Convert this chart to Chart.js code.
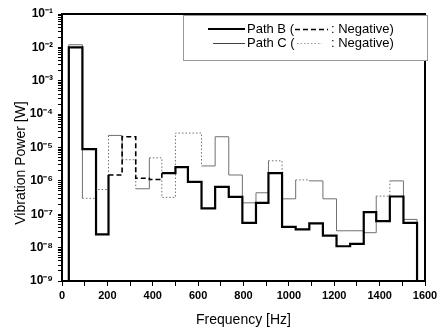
<!DOCTYPE html>
<html>
<head>
<meta charset="utf-8">
<script src="https://cdn.jsdelivr.net/npm/chart.js@4"></script>
<style>
  html, body { margin: 0; padding: 0; background: #fff; }
  #wrap { width: 444px; height: 331px; position: relative; }
</style>
</head>
<body>
<div id="wrap"><canvas id="vib" width="444" height="331"></canvas></div>
<script>
// bin edges in Hz (26 bins), values per bin in W
const binEdges = [30, 90, 150, 205, 265, 325, 385, 440, 500, 555, 615, 675, 735, 795,
  855, 910, 970, 1030, 1090, 1150, 1210, 1270, 1330, 1385, 1445, 1505, 1565];

const pathB = [1e-2, 9e-6, 2.5e-8, 1.5e-6, 2.1e-5, 1.2e-6, 1.1e-6, 1.7e-6, 2.6e-6, 9.3e-7,
  1.5e-7, 6.6e-7, 3.3e-7, 5.5e-8, 2.2e-7, 1.7e-6, 4.2e-8, 3.5e-8, 5.3e-8, 2.3e-8,
  1.1e-8, 1.3e-8, 1.15e-7, 6.2e-8, 3.4e-7, 5.5e-8];
// true = negative sign (drawn dashed)
const negB = [false, false, false, true, true, true, true, false, false, false,
  false, false, false, false, false, false, false, false, false, false,
  false, false, false, false, false, false];

const pathC = [1.2e-2, 3e-7, 5.5e-7, 2.3e-5, 4.3e-6, 5.8e-7, 4.9e-6, 3.2e-7, 2.7e-5, 2.7e-5,
  2.8e-6, 2.1e-5, 1.5e-6, 2.2e-7, 4.4e-7, 4e-6, 2.9e-7, 1.07e-6, 1e-6, 2.9e-7,
  3.2e-8, 3.2e-8, 2.8e-8, 3.5e-7, 1e-6, 7e-8];
const negC = [false, true, true, false, true, false, true, true, true, true,
  false, false, false, false, false, true, false, true, false, false,
  false, false, false, true, false, false];

const yMin = 1e-9, yMax = 1e-1;
const xTicks = [0, 200, 400, 600, 800, 1000, 1200, 1400, 1600];

// step outline: rise from the floor, one point per bin, drop back to the floor
function stepPoints(vals) {
  const pts = [{x: binEdges[0], y: yMin}];
  vals.forEach((v, i) => pts.push({x: binEdges[i], y: v}));
  pts.push({x: binEdges[binEdges.length - 1], y: yMin});
  return pts;
}

const supMap = {'-': '\u207B', '0': '\u2070', '1': '\u00B9', '2': '\u00B2', '3': '\u00B3',
  '4': '\u2074', '5': '\u2075', '6': '\u2076', '7': '\u2077', '8': '\u2078', '9': '\u2079'};
function powLabel(e) {
  return '10' + String(e).split('').map(c => supMap[c]).join('');
}

const yTickVals = [];
for (let e = -9; e <= -1; e++) {
  for (let m = 1; m <= 9; m++) {
    if (e === -1 && m > 1) break;
    yTickVals.push(m * Math.pow(10, e));
  }
}

const font = '"Liberation Sans", Arial, Helvetica, sans-serif';

const extras = {
  id: 'extras',
  afterDatasetsDraw(chart) {
    const {ctx, chartArea: a} = chart;
    ctx.save();
    // top and right frame
    ctx.strokeStyle = '#000';
    ctx.lineWidth = 2;
    ctx.beginPath();
    ctx.moveTo(a.left, a.top);
    ctx.lineTo(a.right, a.top);
    ctx.lineTo(a.right, a.bottom);
    ctx.stroke();

    // legend box
    const bx = 183, by = 15, bw = 244, bh = 45;
    ctx.fillStyle = '#fff';
    ctx.fillRect(bx, by, bw, bh);
    ctx.strokeStyle = '#999';
    ctx.lineWidth = 1;
    ctx.strokeRect(bx + 0.5, by + 0.5, bw, bh);

    ctx.font = '13px ' + font;
    ctx.fillStyle = '#000';
    ctx.textBaseline = 'middle';
    ctx.textAlign = 'left';

    // row B
    ctx.strokeStyle = '#000';
    ctx.lineWidth = 2;
    ctx.beginPath(); ctx.moveTo(208, 29); ctx.lineTo(245, 29); ctx.stroke();
    ctx.fillText('Path B (', 247, 29);
    ctx.lineWidth = 1.5;
    ctx.setLineDash([5, 3]);
    ctx.beginPath(); ctx.moveTo(295, 29.5); ctx.lineTo(328, 29.5); ctx.stroke();
    ctx.setLineDash([]);
    ctx.fillText(': Negative)', 331, 29);

    // row C
    ctx.strokeStyle = '#444';
    ctx.lineWidth = 1;
    ctx.beginPath(); ctx.moveTo(213, 43.5); ctx.lineTo(245, 43.5); ctx.stroke();
    ctx.fillText('Path C (', 247, 43);
    ctx.strokeStyle = '#999';
    ctx.setLineDash([1.5, 2]);
    ctx.beginPath(); ctx.moveTo(297, 43.5); ctx.lineTo(322, 43.5); ctx.stroke();
    ctx.setLineDash([]);
    ctx.fillText(': Negative)', 331, 43);

    // y axis title
    ctx.translate(21, 163);
    ctx.rotate(-Math.PI / 2);
    ctx.textAlign = 'center';
    ctx.font = '14px ' + font;
    ctx.fillText('Vibration Power [W]', 0, 0);
    ctx.restore();
  }
};

new Chart(document.getElementById('vib'), {
  type: 'line',
  data: {
    datasets: [{
      label: 'Path B',
      data: stepPoints(pathB),
      borderColor: '#000',
      borderWidth: 2.2,
      pointRadius: 0,
      stepped: true,
      segment: {
        borderDash: ctx => negB[ctx.p0DataIndex - 1] ? [5, 3] : undefined,
        borderWidth: ctx => negB[ctx.p0DataIndex - 1] ? 1.6 : undefined
      }
    }, {
      label: 'Path C',
      data: stepPoints(pathC),
      borderColor: '#707070',
      borderWidth: 1,
      pointRadius: 0,
      stepped: true,
      segment: {
        borderDash: ctx => negC[ctx.p0DataIndex - 1] ? [1.5, 2] : undefined
      }
    }]
  },
  options: {
    responsive: false,
    animation: false,
    events: [],
    layout: {padding: {left: 0, right: 19, top: 14, bottom: 0}},
    plugins: {legend: {display: false}, tooltip: {enabled: false}},
    scales: {
      x: {
        type: 'linear',
        min: 0,
        max: 1600,
        afterFit: s => { s.height = 50; },
        ticks: {
          stepSize: 100,
          autoSkip: false,
          maxRotation: 0,
          padding: 3,
          color: '#000',
          font: {family: font, size: 11, weight: 'bold'},
          callback: v => xTicks.includes(v) ? String(v) : ''
        },
        grid: {drawOnChartArea: false, drawTicks: true, tickLength: 5, color: '#000'},
        border: {color: '#000', width: 2},
        title: {
          display: true,
          text: 'Frequency [Hz]',
          color: '#000',
          font: {family: font, size: 14},
          padding: {top: 0, bottom: 2}
        }
      },
      y: {
        type: 'logarithmic',
        min: yMin,
        max: yMax,
        afterFit: s => { s.width = 62; },
        afterBuildTicks: s => { s.ticks = yTickVals.map(v => ({value: v})); },
        ticks: {
          autoSkip: false,
          padding: 5,
          color: '#000',
          font: {family: font, size: 12, weight: 'bold'},
          callback: v => {
            const e = Math.round(Math.log10(v));
            return Math.abs(v / Math.pow(10, e) - 1) < 1e-6 ? powLabel(e) : '';
          }
        },
        grid: {drawOnChartArea: false, drawTicks: true, tickLength: 4, color: '#000'},
        border: {color: '#000', width: 2}
      }
    }
  },
  plugins: [extras]
});
</script>
</body>
</html>
